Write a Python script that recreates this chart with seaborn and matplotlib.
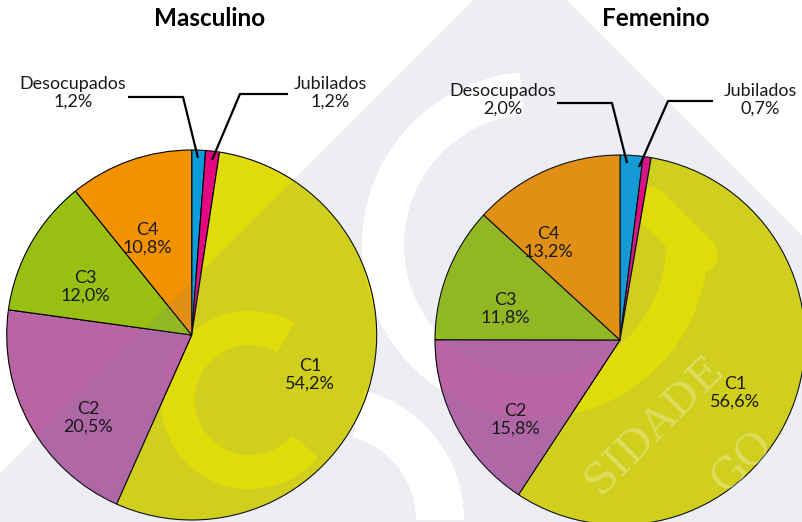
import matplotlib
matplotlib.use("Agg")
import numpy as np
import matplotlib.pyplot as plt
from matplotlib.colors import to_rgb
import seaborn as sns

# datos
categorias = ["Desocupados", "Jubilados", "C1", "C2", "C3", "C4"]
masculino = [1.2, 1.2, 54.2, 20.5, 12.0, 10.8]
femenino = [2.0, 0.7, 56.6, 15.8, 11.8, 13.2]
titulos = ["Masculino", "Femenino"]

colores = ["#0a9fdc", "#e3087f", "#e0dc0a", "#b965a5", "#97c012", "#f39200"]

sns.set_theme(style="white")
plt.rcParams["font.family"] = ["Lato", "DejaVu Sans"]

W, H = 803, 522
fig = plt.figure(figsize=(W / 100, H / 100), dpi=100)
ax = fig.add_axes([0, 0, 1, 1])

# layout in pixel coords (y down)
centros = [(191.7, 335.0), (620.0, 340.0)]
radio = 185.0
pos_titulo = [(210, 19), (656, 19)]
pos_etiquetas = [
    {"Desocupados": (73, 93), "Jubilados": (330, 93), "C1": (310, 375),
     "C2": (88, 418), "C3": (85, 287), "C4": (147, 239)},
    {"Desocupados": (503, 100), "Jubilados": (760, 100), "C1": (735, 393),
     "C2": (515, 420), "C3": (505, 309), "C4": (548, 243)},
]
guias = [
    {"Desocupados": [(128, 97), (183, 97), (198, 158)],
     "Jubilados": [(288, 94), (240, 94), (212, 160)]},
    {"Desocupados": [(557, 103), (612, 103), (627, 163)],
     "Jubilados": [(713, 101), (668, 101), (639, 167)]},
]


def fmt(v):
    return f"{v:.1f}".replace(".", ",") + "%"


for i, valores in enumerate([masculino, femenino]):
    # y axis is inverted, so counterclock=True draws clockwise on screen
    ax.pie(valores, colors=colores, center=centros[i], radius=radio,
           startangle=-90, counterclock=True,
           wedgeprops=dict(edgecolor="black", linewidth=0.8))
    ax.text(*pos_titulo[i], titulos[i], ha="center", va="center",
            fontsize=17.5, fontweight="bold", color="black", zorder=6)
    for cat, v in zip(categorias, valores):
        x, y = pos_etiquetas[i][cat]
        ax.text(x, y, f"{cat}\n{fmt(v)}", ha="center", va="center",
                fontsize=13, color="#1a1a1a", linespacing=1.1, zorder=6)
    for cat, pts in guias[i].items():
        xs, ys = zip(*pts)
        ax.plot(xs, ys, color="black", linewidth=1.6,
                solid_capstyle="butt", zorder=6)

# --- faint logo watermark over everything ---
yy, xx = np.mgrid[0:H, 0:W] + 0.5
mask = (xx + yy > 473) & (xx - yy < 567)


def anillo(cx, cy, r, w, a0, a1):
    d = np.hypot(xx - cx, yy - cy)
    ang = np.degrees(np.arctan2(cy - yy, xx - cx)) % 360
    return (np.abs(d - r) < w / 2) & (ang >= a0) & (ang <= a1)


def tramo(p, q, w):
    px, py = p
    qx, qy = q
    dx, dy = qx - px, qy - py
    t = np.clip(((xx - px) * dx + (yy - py) * dy) / (dx * dx + dy * dy), 0, 1)
    return np.hypot(xx - (px + t * dx), yy - (py + t * dy)) < w / 2


hueco = anillo(535, 245, 152, 42, 95, 360)
hueco |= tramo((700, 255), (650, 205), 36)
hueco |= anillo(250, 400, 72, 34, 60, 320)
hueco |= anillo(330, 520, 110, 48, 0, 75)
mask &= ~hueco

capa = np.zeros((H, W, 4))
capa[..., :3] = to_rgb("#6e7daa")
capa[..., 3] = np.where(mask, 0.13, 0.0)
ax.imshow(capa, extent=(0, W, H, 0), zorder=4, interpolation="bilinear")

ax.text(655, 425, "SIDADE", rotation=45, ha="center", va="center",
        fontsize=31, family="DejaVu Serif", color="white", alpha=0.28, zorder=5)
ax.text(742, 462, "GO", rotation=45, ha="center", va="center",
        fontsize=31, family="DejaVu Serif", color="white", alpha=0.28, zorder=5)

ax.set_xlim(0, W)
ax.set_ylim(H, 0)
ax.set_aspect("auto")
ax.axis("off")

fig.savefig("out.png", dpi=100, facecolor="white")
